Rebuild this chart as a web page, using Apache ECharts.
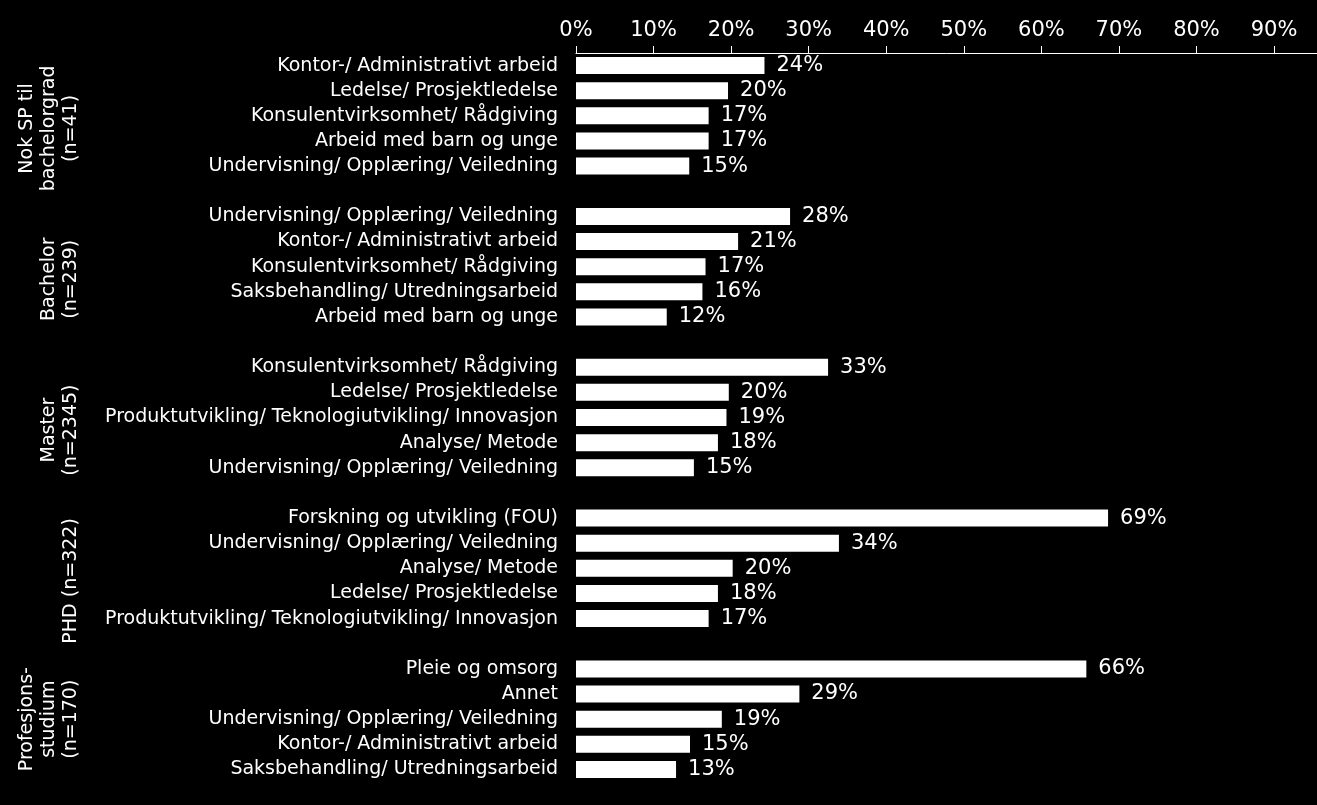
<!DOCTYPE html>
<html>
<head>
<meta charset="utf-8">
<script src="https://cdn.jsdelivr.net/npm/echarts@6/dist/echarts.min.js"></script>
<style>
html,body{margin:0;padding:0;background:#000;}
#c{width:1317px;height:805px;}
</style>
</head>
<body>
<div id="c"></div>
<script>
// Group labels
const groupLabels = ['Nok SP til\nbachelorgrad\n(n=41)', 'Bachelor\n(n=239)', 'Master\n(n=2345)', 'PHD (n=322)', 'Profesjons-\nstudium\n(n=170)'];

// Categories and values per group (percent)
const catsNok = ['Kontor-/ Administrativt arbeid', 'Ledelse/ Prosjektledelse', 'Konsulentvirksomhet/ Rådgiving', 'Arbeid med barn og unge', 'Undervisning/ Opplæring/ Veiledning'];
const valsNok = [24.3, 19.6, 17.1, 17.1, 14.6];

const catsBachelor = ['Undervisning/ Opplæring/ Veiledning', 'Kontor-/ Administrativt arbeid', 'Konsulentvirksomhet/ Rådgiving', 'Saksbehandling/ Utredningsarbeid', 'Arbeid med barn og unge'];
const valsBachelor = [27.6, 20.9, 16.7, 16.3, 11.7];

const catsMaster = ['Konsulentvirksomhet/ Rådgiving', 'Ledelse/ Prosjektledelse', 'Produktutvikling/ Teknologiutvikling/ Innovasjon', 'Analyse/ Metode', 'Undervisning/ Opplæring/ Veiledning'];
const valsMaster = [32.5, 19.7, 19.4, 18.3, 15.2];

const catsPhd = ['Forskning og utvikling (FOU)', 'Undervisning/ Opplæring/ Veiledning', 'Analyse/ Metode', 'Ledelse/ Prosjektledelse', 'Produktutvikling/ Teknologiutvikling/ Innovasjon'];
const valsPhd = [68.6, 33.9, 20.2, 18.3, 17.1];

const catsProf = ['Pleie og omsorg', 'Annet', 'Undervisning/ Opplæring/ Veiledning', 'Kontor-/ Administrativt arbeid', 'Saksbehandling/ Utredningsarbeid'];
const valsProf = [65.8, 28.8, 18.8, 14.7, 12.9];

const xTicks = [0, 10, 20, 30, 40, 50, 60, 70, 80, 90];

const groupCats = [catsNok, catsBachelor, catsMaster, catsPhd, catsProf];
const groupVals = [valsNok, valsBachelor, valsMaster, valsPhd, valsProf];

// Build flat arrays with a blank slot between groups
const categories = [];
const values = [];
const groupStart = [];
groupCats.forEach((cats, gi) => {
  if (gi > 0) { categories.push(''); values.push('-'); }
  groupStart.push(categories.length);
  cats.forEach((c, i) => { categories.push(c); values.push(groupVals[gi][i]); });
});

const FONT = 'DejaVu Sans';
const chart = echarts.init(document.getElementById('c'), null, {renderer: 'canvas'});
const option = {
  backgroundColor: '#000',
  animation: false,
  grid: {left: 576, top: 53, width: 775.6, height: 729, containLabel: false, outerBoundsMode: 'none'},
  xAxis: {
    type: 'value',
    position: 'top',
    min: 0,
    max: 100,
    interval: 10,
    splitLine: {show: false},
    axisLine: {show: true, lineStyle: {color: '#fff', width: 1}},
    axisTick: {show: true, inside: false, length: 7, lineStyle: {color: '#fff', width: 1}},
    axisLabel: {
      color: '#fff', fontSize: 21, fontFamily: FONT, margin: 12,
      showMaxLabel: false,
      formatter: v => (xTicks.indexOf(v) >= 0 ? v + '%' : '')
    }
  },
  yAxis: {
    type: 'category',
    inverse: true,
    data: categories,
    axisLine: {show: false},
    axisTick: {show: false},
    axisLabel: {color: '#fff', fontSize: 19, fontFamily: FONT, margin: 18, interval: 0}
  },
  series: [{
    type: 'bar',
    data: values,
    barWidth: 17,
    itemStyle: {color: '#fff', borderWidth: 0},
    label: {
      show: true, position: 'right', distance: 12,
      color: '#fff', fontSize: 21, fontFamily: FONT,
      formatter: p => Math.round(p.value) + '%'
    }
  }]
};
chart.setOption(option);

// Group labels, rotated, positioned from the axis scale
const graphics = groupLabels.map((lab, gi) => {
  const s = groupStart[gi];
  const last = gi === groupLabels.length - 1;
  const a = chart.convertToPixel({yAxisIndex: 0}, s + 2);
  const b = chart.convertToPixel({yAxisIndex: 0}, last ? s + 2 : s + 3);
  const y = (a + b) / 2;
  return {
    type: 'text',
    x: 82, y: y,
    rotation: Math.PI / 2,
    style: {
      text: lab, fill: '#fff', fontSize: 19, fontFamily: FONT,
      align: 'center', verticalAlign: 'bottom', lineHeight: 22
    }
  };
});
chart.setOption({graphic: graphics});
</script>
</body>
</html>
